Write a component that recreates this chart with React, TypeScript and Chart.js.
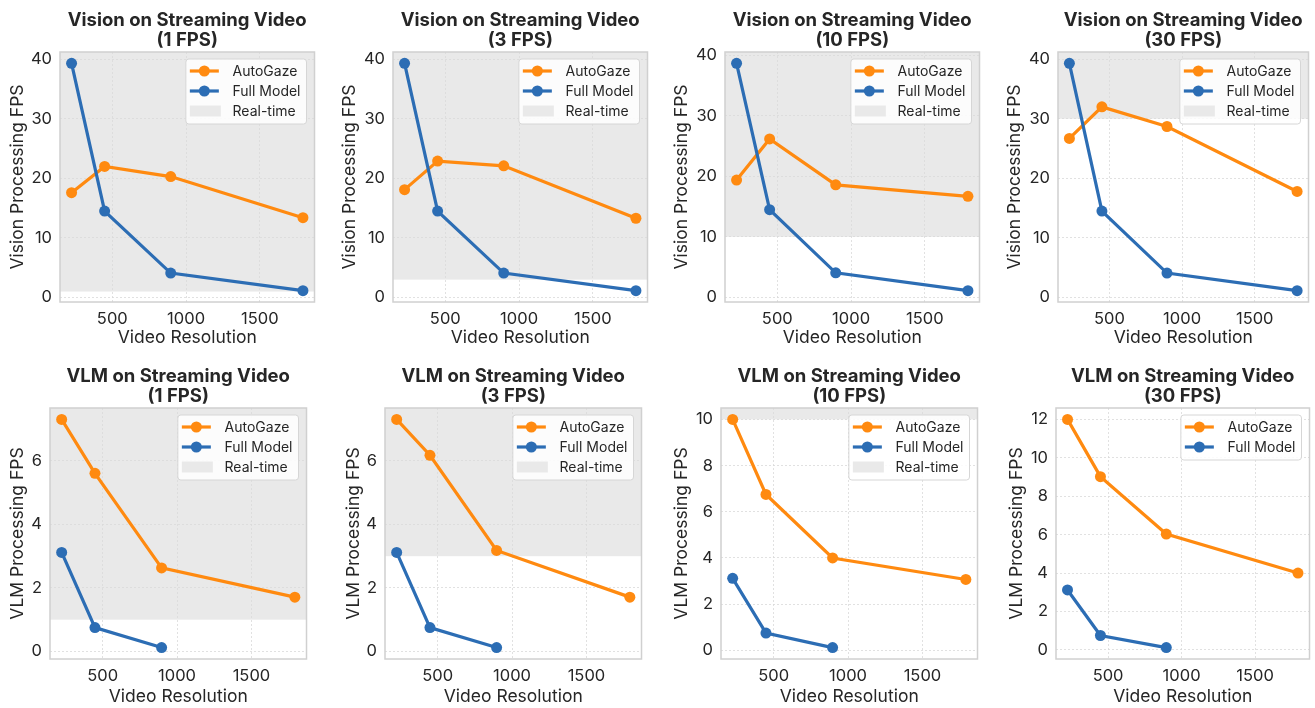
import React, { useEffect, useRef } from "react";
import { Chart, registerables } from "chart.js";

Chart.register(...registerables);

// ---------- data ----------
const resolutions = [224, 448, 896, 1792];
const streamRates = [1, 3, 10, 30];

const visionAutoGaze1 = [17.6, 22.0, 20.3, 13.4];
const visionAutoGaze3 = [18.1, 22.9, 22.1, 13.3];
const visionAutoGaze10 = [19.4, 26.2, 18.6, 16.7];
const visionAutoGaze30 = [26.7, 32.0, 28.7, 17.8];
const visionFullModel = [39.3, 14.5, 4.1, 1.15];
const visionFullModel10 = [38.7, 14.5, 4.05, 1.1];

const vlmAutoGaze1 = [7.31, 5.61, 2.63, 1.71];
const vlmAutoGaze3 = [7.31, 6.18, 3.18, 1.71];
const vlmAutoGaze10 = [10.0, 6.75, 4.0, 3.07];
const vlmAutoGaze30 = [12.0, 9.02, 6.03, 4.0];
const vlmFullModel = [3.12, 0.75, 0.12, null];

const xTicks = [500, 1000, 1500];
const visionTicks = [0, 10, 20, 30, 40];
const vlmTicksLow = [0, 2, 4, 6];
const vlmTicks10 = [0, 2, 4, 6, 8, 10];
const vlmTicks30 = [0, 2, 4, 6, 8, 10, 12];

const visionTitle = "Vision on Streaming Video";
const vlmTitle = "VLM on Streaming Video";
const visionYLabel = "Vision Processing FPS";
const vlmYLabel = "VLM Processing FPS";
const xLabel = "Video Resolution";
const seriesNames = ["AutoGaze", "Full Model"];
const realTimeName = "Real-time";

// ---------- style ----------
const ORANGE = "#ff8a10";
const BLUE = "#2c6db4";
const SHADE = "#e9e9e9";
const TEXT = "#262626";
const FONT = 'Inter, "Noto Sans", "DejaVu Sans", sans-serif';
const TICK_SIZE = 16.5;
const AXIS_TITLE_SIZE = 17.5;
const TITLE_SIZE = 18.5;
const LEGEND_SIZE = 14;

type PanelDef = {
  title: string;
  rate: number;
  yLabel: string;
  autoGaze: (number | null)[];
  full: (number | null)[];
  yTicks: number[];
  row: number;
  chartLeft: number;
  chartRight: number;
  yTitleX: number;
};

const panels: PanelDef[] = [
  { title: visionTitle, rate: streamRates[0], yLabel: visionYLabel, autoGaze: visionAutoGaze1, full: visionFullModel, yTicks: visionTicks, row: 0, chartLeft: 60, chartRight: 316, yTitleX: 18 },
  { title: visionTitle, rate: streamRates[1], yLabel: visionYLabel, autoGaze: visionAutoGaze3, full: visionFullModel, yTicks: visionTicks, row: 0, chartLeft: 393, chartRight: 649, yTitleX: 350 },
  { title: visionTitle, rate: streamRates[2], yLabel: visionYLabel, autoGaze: visionAutoGaze10, full: visionFullModel10, yTicks: visionTicks, row: 0, chartLeft: 725, chartRight: 981, yTitleX: 681.5 },
  { title: visionTitle, rate: streamRates[3], yLabel: visionYLabel, autoGaze: visionAutoGaze30, full: visionFullModel, yTicks: visionTicks, row: 0, chartLeft: 1058, chartRight: 1310, yTitleX: 1015 },
  { title: vlmTitle, rate: streamRates[0], yLabel: vlmYLabel, autoGaze: vlmAutoGaze1, full: vlmFullModel, yTicks: vlmTicksLow, row: 1, chartLeft: 50, chartRight: 308, yTitleX: 17.5 },
  { title: vlmTitle, rate: streamRates[1], yLabel: vlmYLabel, autoGaze: vlmAutoGaze3, full: vlmFullModel, yTicks: vlmTicksLow, row: 1, chartLeft: 385, chartRight: 643, yTitleX: 354 },
  { title: vlmTitle, rate: streamRates[2], yLabel: vlmYLabel, autoGaze: vlmAutoGaze10, full: vlmFullModel, yTicks: vlmTicks10, row: 1, chartLeft: 721, chartRight: 979, yTitleX: 682 },
  { title: vlmTitle, rate: streamRates[3], yLabel: vlmYLabel, autoGaze: vlmAutoGaze30, full: vlmFullModel, yTicks: vlmTicks30, row: 1, chartLeft: 1056, chartRight: 1311, yTitleX: 1017 },
];

const rows = [
  { top: 0, height: 355, chartTop: 52, chartBottom: 302, xTitlePad: 6.5 },
  { top: 355, height: 353, chartTop: 53, chartBottom: 304, xTitlePad: 0.8 },
];

function toPoints(vals: (number | null)[]) {
  return resolutions
    .map((x, i) => ({ x, y: vals[i] }))
    .filter((p) => p.y !== null && p.y !== undefined) as { x: number; y: number }[];
}

function padRange(vals: number[]) {
  const lo = Math.min(...vals);
  const hi = Math.max(...vals);
  const m = (hi - lo) * 0.05;
  return [lo - m, hi + m];
}

const panelPlugin = {
  id: "panelDecor",
  beforeDraw(chart: any) {
    const o = chart.options.plugins.panelDecor;
    const { ctx, chartArea } = chart;
    const y = chart.scales.y;
    if (o.rate < y.max) {
      const py = Math.max(y.getPixelForValue(o.rate), chartArea.top);
      ctx.save();
      ctx.fillStyle = SHADE;
      ctx.fillRect(chartArea.left, chartArea.top, chartArea.right - chartArea.left, Math.min(py, chartArea.bottom) - chartArea.top);
      ctx.restore();
    }
  },
  afterDatasetsDraw(chart: any) {
    const o = chart.options.plugins.panelDecor;
    const { ctx, chartArea } = chart;
    const y = chart.scales.y;
    ctx.save();
    // frame
    ctx.strokeStyle = "#d0d0d0";
    ctx.lineWidth = 1.5;
    ctx.strokeRect(chartArea.left, chartArea.top, chartArea.right - chartArea.left, chartArea.bottom - chartArea.top);

    // title
    const cx = (chartArea.left + chartArea.right) / 2;
    ctx.fillStyle = TEXT;
    ctx.font = `bold ${TITLE_SIZE}px ${FONT}`;
    ctx.textAlign = "center";
    ctx.textBaseline = "alphabetic";
    ctx.fillText(o.title, cx, chartArea.top - 26);
    ctx.fillText(`(${o.rate} FPS)`, cx, chartArea.top - 6);

    // legend
    const items: { label: string; kind: string; color: string }[] = [];
    chart.data.datasets.forEach((ds: any) => items.push({ label: ds.label, kind: "line", color: ds.borderColor }));
    if (o.rate < y.max) items.push({ label: realTimeName, kind: "rect", color: SHADE });
    ctx.font = `${LEGEND_SIZE}px ${FONT}`;
    const tw = Math.max(...items.map((it) => ctx.measureText(it.label).width));
    const bw = 46.7 + tw + 6;
    const bh = 25 + 20 * (items.length - 1);
    const bx = chartArea.right - 8 - bw;
    const by = chartArea.top + 7;
    ctx.beginPath();
    if (ctx.roundRect) ctx.roundRect(bx, by, bw, bh, 3);
    else ctx.rect(bx, by, bw, bh);
    ctx.fillStyle = "rgba(255,255,255,0.85)";
    ctx.fill();
    ctx.strokeStyle = "#d6d6d6";
    ctx.lineWidth = 1;
    ctx.stroke();
    items.forEach((it, i) => {
      const ry = by + 12 + 20 * i;
      if (it.kind === "line") {
        ctx.strokeStyle = it.color;
        ctx.lineWidth = 3.2;
        ctx.beginPath();
        ctx.moveTo(bx + 4, ry);
        ctx.lineTo(bx + 33, ry);
        ctx.stroke();
        ctx.fillStyle = it.color;
        ctx.beginPath();
        ctx.arc(bx + 18.5, ry, 5.5, 0, Math.PI * 2);
        ctx.fill();
      } else {
        ctx.fillStyle = it.color;
        ctx.fillRect(bx + 4, ry - 5.5, 31, 11);
      }
      ctx.fillStyle = TEXT;
      ctx.textAlign = "left";
      ctx.textBaseline = "middle";
      ctx.fillText(it.label, bx + 46.7, ry + 0.5);
    });
    ctx.restore();
  },
};

function Panel({ p }: { p: PanelDef }) {
  const ref = useRef<HTMLCanvasElement | null>(null);
  const row = rows[p.row];
  const canvasLeft = Math.round(p.yTitleX - 12);
  const width = Math.min(p.chartRight + 4, 1315) - canvasLeft;
  const rightPad = width - (p.chartRight - canvasLeft);
  const yW = p.chartLeft - canvasLeft;
  const xH = row.height - row.chartBottom;

  useEffect(() => {
    if (!ref.current) return;
    const allY = [...p.autoGaze, ...p.full].filter((v) => v !== null) as number[];
    const [yMin, yMax] = padRange(allY);
    const [xMin, xMax] = padRange(resolutions);
    const gridOpts = { color: "#dadada", lineWidth: 0.8, drawTicks: false };
    const borderOpts = { display: false, dash: [2, 2] };
    const tickFont = { family: FONT, size: TICK_SIZE };
    const titleLH = AXIS_TITLE_SIZE * 1.2;
    const chart = new Chart(ref.current, {
      type: "line",
      data: {
        datasets: [
          {
            label: seriesNames[0],
            data: toPoints(p.autoGaze),
            borderColor: ORANGE,
            backgroundColor: ORANGE,
            pointBackgroundColor: ORANGE,
            borderWidth: 3.2,
            pointRadius: 5.5,
            pointBorderWidth: 0,
            order: 1,
            clip: false,
          },
          {
            label: seriesNames[1],
            data: toPoints(p.full),
            borderColor: BLUE,
            backgroundColor: BLUE,
            pointBackgroundColor: BLUE,
            borderWidth: 3.2,
            pointRadius: 5.5,
            pointBorderWidth: 0,
            order: 0,
            clip: false,
          },
        ],
      },
      options: {
        responsive: false,
        animation: false,
        devicePixelRatio: 1,
        layout: { padding: { top: row.chartTop, left: 0, right: rightPad, bottom: 0 } },
        plugins: {
          legend: { display: false },
          tooltip: { enabled: false },
          panelDecor: { title: p.title, rate: p.rate },
        } as any,
        scales: {
          x: {
            type: "linear",
            min: xMin,
            max: xMax,
            afterBuildTicks: (s: any) => {
              s.ticks = xTicks.map((v) => ({ value: v }));
            },
            afterFit: (s: any) => {
              s.height = xH;
            },
            ticks: { font: tickFont, color: TEXT, padding: 7, maxRotation: 0, autoSkip: false, callback: (v: any) => String(v) },
            grid: gridOpts,
            border: borderOpts,
            title: { display: true, text: xLabel, color: TEXT, font: { family: FONT, size: AXIS_TITLE_SIZE }, padding: { top: 0, bottom: row.xTitlePad } },
          },
          y: {
            type: "linear",
            min: yMin,
            max: yMax,
            afterBuildTicks: (s: any) => {
              s.ticks = p.yTicks.filter((v) => v >= yMin && v <= yMax).map((v) => ({ value: v }));
            },
            afterFit: (s: any) => {
              s.width = yW;
            },
            ticks: { font: tickFont, color: TEXT, padding: 8, autoSkip: false, callback: (v: any) => String(v) },
            grid: gridOpts,
            border: borderOpts,
            title: { display: true, text: p.yLabel, color: TEXT, font: { family: FONT, size: AXIS_TITLE_SIZE }, padding: { top: Math.max(0, 12 - titleLH / 2), bottom: 0 } },
          },
        },
      } as any,
      plugins: [panelPlugin],
    });
    return () => chart.destroy();
  }, []);

  return (
    <canvas
      ref={ref}
      width={width}
      height={row.height}
      style={{ position: "absolute", left: canvasLeft, top: row.top, width, height: row.height }}
    />
  );
}

export default function App() {
  return (
    <div style={{ position: "absolute", left: 0, top: 0, width: 1315, height: 708, background: "#fff", overflow: "hidden" }}>
      {panels.map((p, i) => (
        <Panel key={i} p={p} />
      ))}
    </div>
  );
}
